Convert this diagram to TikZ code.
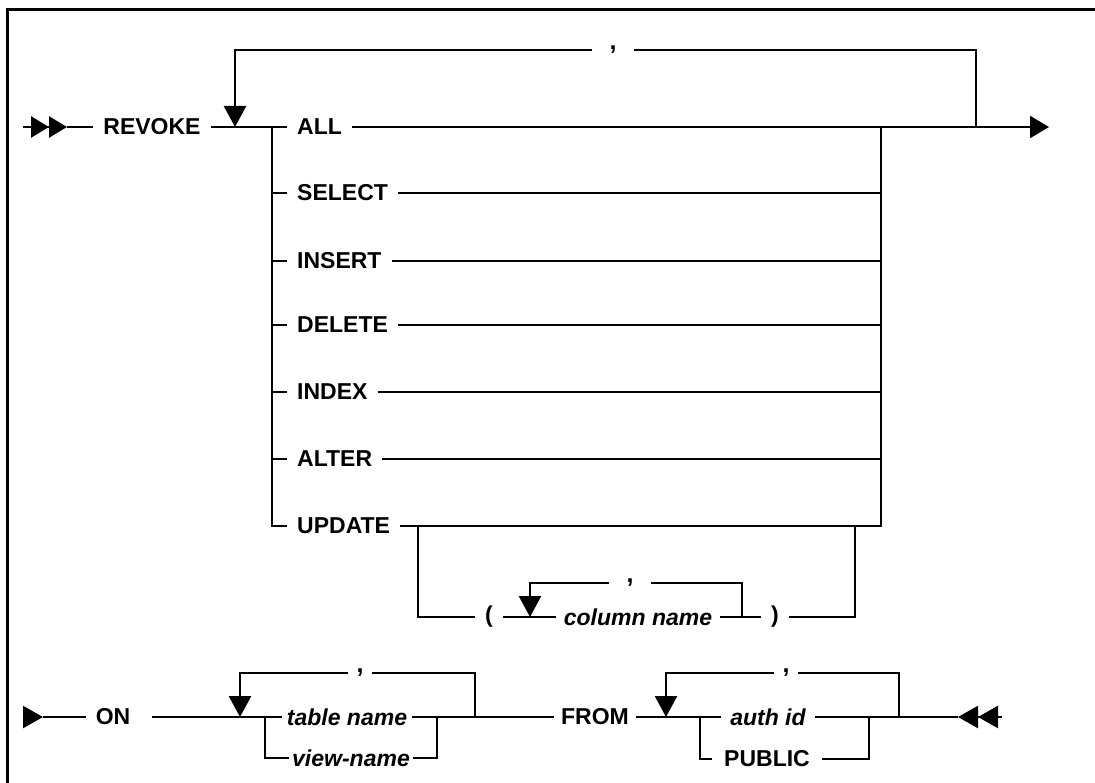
\documentclass[tikz,border=0pt]{standalone}
\usepackage{fontspec}
\setmainfont{Liberation Sans}
\usetikzlibrary{arrows.meta}

\tikzset{
  kw/.style={font=\bfseries\fontsize{23}{27}\selectfont, inner xsep=10pt, inner ysep=2pt},
  ident/.style={font=\bfseries\itshape\fontsize{23}{27}\selectfont, inner xsep=8pt, inner ysep=2pt},
  sepmark/.style={font=\bfseries\fontsize{25}{29}\selectfont, inner xsep=15pt, inner ysep=0pt},
  rail/.style={line width=2.4pt},
  loopdown/.style={rail, -{Triangle[length=21pt, width=22pt]}},
}

\begin{document}
\begin{tikzpicture}[x=1pt, y=-1pt]
    \useasboundingbox (0,0) rectangle (1095,783);

    % Frame
    \draw[line width=3pt] (7,783) -- (7,10) -- (1095,10);

    % REVOKE and the privileges
    \coordinate (in1) at (23,127);
    \coordinate (in1tip) at (67,127);
    \node[kw] (revoke) at (152,127) {REVOKE};
    \coordinate (back1) at (235,127);
    \coordinate (fork1) at (272,127);
    \node[kw, anchor=west] (all) at (287,127) {ALL};
    \node[kw, anchor=west] (sel) at (287,193) {SELECT};
    \node[kw, anchor=west] (ins) at (287,261) {INSERT};
    \node[kw, anchor=west] (del) at (287,325) {DELETE};
    \node[kw, anchor=west] (idx) at (287,392) {INDEX};
    \node[kw, anchor=west] (alt) at (287,459) {ALTER};
    \node[kw, anchor=west] (upd) at (287,526) {UPDATE};
    \coordinate (join1) at (881,127);
    \coordinate (ret1) at (976,127);
    \coordinate (out1) at (1049,127);
    \node[sepmark, inner xsep=17pt] (c1) at (613,50) {,};

    \draw[rail, -{Triangle[length=18pt, width=21pt]Triangle[length=18pt, width=21pt]}] (in1) -- (in1tip);
    \draw[rail] (in1tip) -- (revoke.west);
    \draw[rail] (revoke.east) -- (all.west);
    \draw[rail, -{Triangle[length=19pt, width=22pt]}] (all.east) -- (out1);
    \draw[rail] (ret1) |- (c1.east);
    \draw[loopdown] (c1.west) -| (back1);

    \draw[rail] (fork1) |- (sel.west);
    \draw[rail] (fork1) |- (ins.west);
    \draw[rail] (fork1) |- (del.west);
    \draw[rail] (fork1) |- (idx.west);
    \draw[rail] (fork1) |- (alt.west);
    \draw[rail] (fork1) |- (upd.west);
    \draw[rail] (sel.east) -| (join1);
    \draw[rail] (ins.east) -| (join1);
    \draw[rail] (del.east) -| (join1);
    \draw[rail] (idx.east) -| (join1);
    \draw[rail] (alt.east) -| (join1);

    % Column list after UPDATE
    \coordinate (fork2) at (418,526);
    \coordinate (join2) at (855,526);
    \node[kw] (lpar) at (489,617) {(};
    \coordinate (back2) at (530,617);
    \node[ident] (col) at (638,617) {column name};
    \coordinate (ret2) at (742,617);
    \node[kw] (rpar) at (775,617) {)};
    \node[sepmark, inner xsep=17pt] (c2) at (630,583) {,};

    \draw[rail] (upd.east) -- (join2) -| (join1);
    \draw[rail] (fork2) |- (lpar.west);
    \draw[rail] (lpar.east) -- (col.west);
    \draw[rail] (col.east) -- (rpar.west);
    \draw[rail] (rpar.east) -| (join2);
    \draw[rail] (ret2) |- (c2.east);
    \draw[loopdown] (c2.west) -| (back2);

    % ON ... FROM ...
    \coordinate (in2) at (23,717);
    \coordinate (in2tip) at (43,717);
    \node[kw] (on) at (113,717) {ON};
    \coordinate (back3) at (240,717);
    \coordinate (fork3) at (265,717);
    \node[ident, inner xsep=5pt] (tbl) at (347,717) {table name};
    \node[ident, inner xsep=3pt] (view) at (351,758) {view-name};
    \coordinate (join3) at (437,717);
    \coordinate (ret3) at (475,717);
    \node[sepmark, inner xsep=8pt] (c3) at (360,673) {,};
    \node[kw, inner xsep=7pt] (from) at (595,717) {FROM};
    \coordinate (back4) at (666,717);
    \coordinate (fork4) at (700,717);
    \node[ident, inner xsep=9pt] (auth) at (768,717) {auth id};
    \node[kw, inner xsep=12pt] (pub) at (767,759) {PUBLIC};
    \coordinate (join4) at (869,717);
    \coordinate (ret4) at (899,717);
    \node[sepmark, inner xsep=8pt] (c4) at (786,673) {,};
    \coordinate (out2) at (1002,717);
    \coordinate (out2tip) at (958,717);

    \draw[rail, -{Triangle[length=20pt, width=22pt]}] (in2) -- (in2tip);
    \draw[rail] (in2tip) -- (on.west);
    \draw[rail] ([xshift=12pt]on.east) -- (tbl.west);
    \draw[rail] (fork3) |- (view.west);
    \draw[rail] (tbl.east) -- (from.west);
    \draw[rail] (view.east) -| (join3);
    \draw[rail] (ret3) |- (c3.east);
    \draw[loopdown] (c3.west) -| (back3);

    \draw[rail] (from.east) -- (auth.west);
    \draw[rail] (fork4) |- (pub.west);
    \draw[rail] (auth.east) -- (out2tip);
    \draw[rail] (pub.east) -| (join4);
    \draw[rail] (ret4) |- (c4.east);
    \draw[loopdown] (c4.west) -| (back4);
    \draw[rail, -{Triangle[length=20pt, width=22pt]Triangle[length=20pt, width=22pt]}] (out2) -- (out2tip);
\end{tikzpicture}
\end{document}
